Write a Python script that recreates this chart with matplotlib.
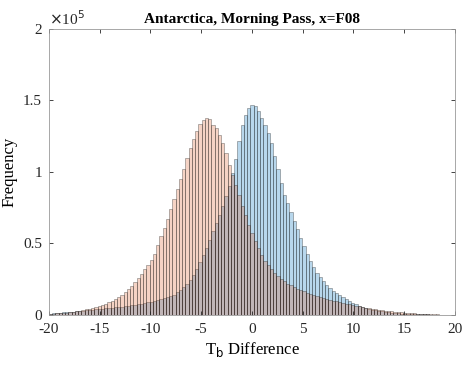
import numpy as np
import matplotlib
matplotlib.use("Agg")
import matplotlib.pyplot as plt

# histogram bins (width 0.32) from -20 to 20
bin_edges = np.linspace(-20, 20, 126)

# counts in thousands
counts_blue = [
    0.9, 1.1, 1.4, 1.6, 1.8, 2.1, 2.2, 2.4, 2.6, 2.8,
    3.0, 3.2, 3.4, 3.6, 3.9, 4.2, 4.4, 4.7, 5.0, 5.2,
    5.4, 5.6, 5.9, 6.2, 6.5, 6.9, 7.3, 7.6, 8.0, 8.4,
    8.8, 9.2, 9.8, 10.4, 11.0, 11.6, 12.3, 13.0, 14.3, 15.8,
    17.5, 19.5, 21.8, 24.5, 28.0, 32.0, 37.0, 42.0, 47.0, 52.5,
    58.5, 64.0, 70.0, 76.0, 83.0, 90.0, 99.0, 109.0, 122.0, 133.0,
    140.0, 144.5, 147.0, 146.0, 142.5, 138.0, 133.0, 127.0, 120.0, 111.0,
    102.0, 92.0, 84.0, 78.0, 72.0, 66.0, 60.0, 54.0, 48.5, 43.0,
    38.0, 33.5, 29.5, 26.5, 23.5, 21.0, 19.0, 17.0, 15.2, 13.8,
    12.5, 11.0, 9.6, 8.4, 7.4, 6.5, 5.7, 5.0, 4.4, 3.8,
    3.3, 2.9, 2.5, 2.1, 1.8, 1.6, 1.4, 1.2, 1.0, 0.9,
    0.8, 0.7, 0.6, 0.5, 0.45, 0.4, 0.35, 0.3, 0.25, 0.2,
    0.15, 0.12, 0.1, 0.08, 0.05,
]
counts_orange = [
    0.9, 1.0, 1.1, 1.3, 1.5, 1.7, 2.0, 2.3, 2.7, 3.0,
    3.5, 3.9, 4.5, 4.9, 5.4, 6.0, 6.8, 7.7, 8.8, 10.0,
    11.3, 12.6, 14.2, 16.0, 18.0, 20.5, 23.0, 26.0, 29.0, 32.0,
    35.0, 38.5, 43.0, 49.0, 55.5, 61.0, 67.0, 74.0, 81.0, 88.0,
    95.0, 102.0, 110.0, 117.0, 123.0, 129.0, 133.5, 136.5, 138.0, 137.0,
    133.0, 131.0, 126.0, 120.0, 113.0, 105.0, 98.0, 91.0, 84.0, 76.0,
    70.0, 63.0, 57.0, 52.0, 47.0, 42.0, 38.0, 35.0, 32.0, 29.5,
    27.0, 25.0, 23.5, 22.0, 20.8, 19.5, 18.3, 17.3, 16.5, 15.6,
    14.8, 14.0, 13.4, 12.7, 12.0, 11.3, 10.7, 10.0, 9.5, 9.0,
    8.5, 8.0, 7.5, 7.0, 6.4, 6.0, 5.5, 5.1, 4.7, 4.4,
    4.1, 3.8, 3.4, 3.1, 2.8, 2.5, 2.3, 2.0, 1.8, 1.6,
    1.4, 1.3, 1.1, 1.0, 0.9, 0.8, 0.7, 0.6, 0.4, 0.35,
    0.3, 0.2, 0.15, 0.1, 0.1,
]

xticks = [-20, -15, -10, -5, 0, 5, 10, 15, 20]
yticks = [0, 0.5e5, 1e5, 1.5e5, 2e5]
ytick_labels = ["0", "0.5", "1", "1.5", "2"]

plt.rcParams["font.family"] = ["Liberation Serif", "DejaVu Serif"]

fig = plt.figure(figsize=(4.64, 3.65), dpi=100)
ax = fig.add_axes([0.1056, 0.137, 0.875, 0.7836])

centers = (bin_edges[:-1] + bin_edges[1:]) / 2
width = bin_edges[1] - bin_edges[0]

ax.bar(centers, np.array(counts_blue) * 1000, width=width,
       color=(0.0, 0.447, 0.741, 0.28), edgecolor=(0.1, 0.1, 0.1, 0.45), linewidth=0.5)
ax.bar(centers, np.array(counts_orange) * 1000, width=width,
       color=(0.85, 0.325, 0.098, 0.25), edgecolor=(0.1, 0.1, 0.1, 0.45), linewidth=0.5)

ax.set_xlim(-20, 20)
ax.set_ylim(0, 2e5)
ax.set_xticks(xticks)
ax.set_xticklabels([str(t) for t in xticks])
ax.set_yticks(yticks)
ax.set_yticklabels(ytick_labels)
ax.tick_params(direction="in", top=True, right=True, length=3, width=0.6,
               labelsize=11, colors="#262626")
ax.tick_params(axis="x", pad=6)
ax.tick_params(axis="y", pad=5)
for s in ax.spines.values():
    s.set_linewidth(0.6)
    s.set_color("#999999")

ax.text(0.0, 1.005, r"$\times$10$^5$", transform=ax.transAxes,
        fontsize=11, color="#262626", va="bottom", ha="left")

ax.set_title("Antarctica, Morning Pass, x=F08", fontsize=11, fontweight="bold", pad=4)
ax.set_xlabel("T$_\\mathrm{b}$ Difference", fontsize=12, labelpad=3)
ax.set_ylabel("Frequency", fontsize=12, labelpad=4)

fig.savefig("out.png", dpi=100)
